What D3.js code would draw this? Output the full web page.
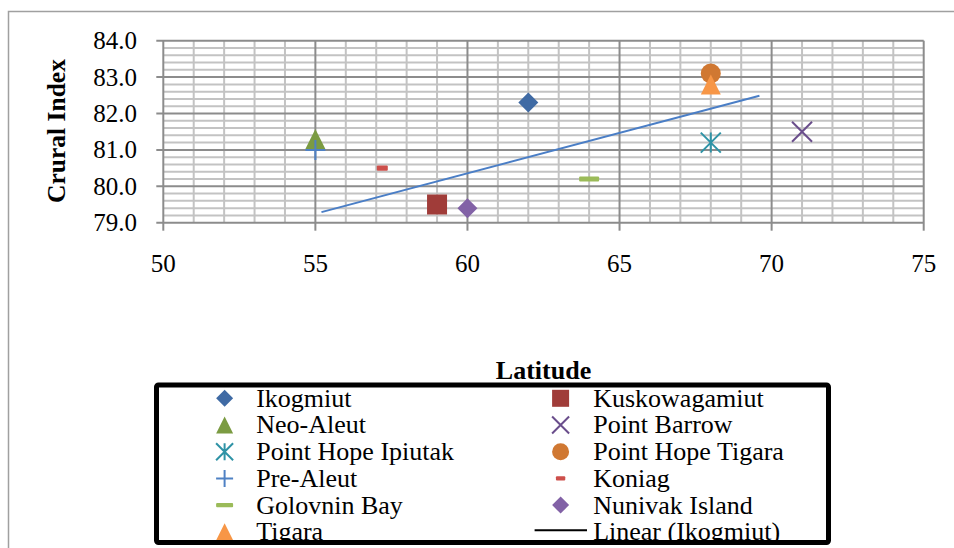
<!DOCTYPE html>
<html>
<head>
<meta charset="utf-8">
<script src="https://cdn.jsdelivr.net/npm/d3@7"></script>
<style>
  html, body { margin: 0; padding: 0; background: #fff; }
  svg { display: block; }
  text { font-family: "Liberation Serif", "Times New Roman", serif; fill: #000; }
</style>
</head>
<body>
<svg id="chart" width="954" height="548"></svg>
<script>
// ---- data ----
const seriesNames = ["Ikogmiut", "Kuskowagamiut", "Neo-Aleut", "Point Barrow", "Point Hope Ipiutak",
  "Point Hope Tigara", "Pre-Aleut", "Koniag", "Golovnin Bay", "Nunivak Island", "Tigara"];
const latitudes = [62, 59, 55, 71, 68, 68, 55, 57.2, 64, 60, 68];
const cruralIndex = [82.3, 79.5, 81.3, 81.5, 81.2, 83.1, 81.0, 80.5, 80.2, 79.4, 82.8];
const markerShapes = ["diamond", "square", "triangle", "x", "asterisk", "circle", "plus", "dashSmall", "dash", "diamond", "triangle"];
const markerColors = ["#3F6AA4", "#A03C39", "#7B9B42", "#6A4E8C", "#2F93A6", "#D07832", "#4F81C4", "#CD4F4B", "#9BBB59", "#8262A6", "#F79646"];
const trendX = [55.2, 69.6];
const trendY = [79.29, 82.49];
const trendName = "Linear (Ikogmiut)";
const xTicks = [50, 55, 60, 65, 70, 75];
const yTicks = [79, 80, 81, 82, 83, 84];
const xTitle = "Latitude";
const yTitle = "Crural Index";

// ---- layout ----
const svg = d3.select("#chart");
const x = d3.scaleLinear().domain([50, 75]).range([163.3, 923.7]);
const y = d3.scaleLinear().domain([79, 84]).range([222.7, 40.7]);

// chart area border
svg.append("rect").attr("x", 8.5).attr("y", 11.5).attr("width", 960).attr("height", 560)
  .attr("fill", "none").attr("stroke", "#a0a0a0").attr("stroke-width", 1.5);

const grid = svg.append("g");
const minorY = d3.range(79, 84.001, 0.2).filter(v => Math.abs(v - Math.round(v)) > 1e-6);
const minorX = d3.range(50, 75.001, 1).filter(v => v % 5 !== 0);
const minorColor = "#c3c3c3", majorColor = "#8c8c8c";

grid.selectAll(".mh").data(minorY).join("line")
  .attr("x1", x(50)).attr("x2", x(75)).attr("y1", d => y(d)).attr("y2", d => y(d))
  .attr("stroke", minorColor).attr("stroke-width", 2);
grid.selectAll(".mv").data(minorX).join("line")
  .attr("x1", d => x(d)).attr("x2", d => x(d)).attr("y1", y(84)).attr("y2", y(79))
  .attr("stroke", minorColor).attr("stroke-width", 2);
grid.selectAll(".Mh").data(yTicks).join("line")
  .attr("x1", x(50) - 7).attr("x2", x(75)).attr("y1", d => y(d)).attr("y2", d => y(d))
  .attr("stroke", majorColor).attr("stroke-width", 2);
grid.selectAll(".Mv").data(xTicks).join("line")
  .attr("x1", d => x(d)).attr("x2", d => x(d)).attr("y1", y(84)).attr("y2", y(79) + 8)
  .attr("stroke", majorColor).attr("stroke-width", 2);

// tick labels
svg.append("g").selectAll("text").data(yTicks).join("text")
  .attr("x", 137).attr("y", d => y(d) + 8.5).attr("text-anchor", "end")
  .attr("font-size", 25).text(d => d3.format(".1f")(d));
svg.append("g").selectAll("text").data(xTicks).join("text")
  .attr("x", d => x(d)).attr("y", 271.5).attr("text-anchor", "middle")
  .attr("font-size", 25).text(d => d);

// axis titles
svg.append("text").attr("transform", "translate(65,131) rotate(-90)")
  .attr("text-anchor", "middle").attr("font-size", 25.5).attr("font-weight", "bold").text(yTitle);
svg.append("text").attr("transform", "translate(543.5,378.5)")
  .attr("text-anchor", "middle").attr("font-size", 26).attr("font-weight", "bold").text(xTitle);

// marker drawing
function drawMarker(g, shape, color, s) {
  const h = s / 2;
  switch (shape) {
    case "diamond":
      g.append("path").attr("d", `M0,${-h}L${h},0L0,${h}L${-h},0Z`).attr("fill", color); break;
    case "square":
      g.append("rect").attr("x", -h).attr("y", -h).attr("width", s).attr("height", s).attr("fill", color); break;
    case "triangle":
      g.append("path").attr("d", `M0,${-h}L${h},${h}L${-h},${h}Z`).attr("fill", color); break;
    case "circle":
      g.append("circle").attr("r", h).attr("fill", color); break;
    case "x":
      g.append("path").attr("d", `M${-h},${-h}L${h},${h}M${-h},${h}L${h},${-h}`)
        .attr("stroke", color).attr("stroke-width", 2).attr("fill", "none"); break;
    case "asterisk":
      g.append("path").attr("d", `M${-h},${-h}L${h},${h}M${-h},${h}L${h},${-h}M0,${-h}L0,${h}`)
        .attr("stroke", color).attr("stroke-width", 2).attr("fill", "none"); break;
    case "plus":
      g.append("path").attr("d", `M${-h},0L${h},0M0,${-h}L0,${h}`)
        .attr("stroke", color).attr("stroke-width", 2).attr("fill", "none"); break;
    case "dash":
      g.append("rect").attr("x", -h).attr("y", -s * 0.13).attr("width", s).attr("height", s * 0.26)
        .attr("rx", 1).attr("fill", color); break;
    case "dashSmall":
      g.append("rect").attr("x", -h * 0.55).attr("y", -s * 0.13).attr("width", s * 0.55).attr("height", s * 0.26)
        .attr("rx", 1).attr("fill", color); break;
  }
}

const pts = seriesNames.map((n, i) => ({ n, x: latitudes[i], y: cruralIndex[i], shape: markerShapes[i], color: markerColors[i] }));
const mg = svg.append("g");
pts.forEach(p => {
  const g = mg.append("g").attr("transform", `translate(${x(p.x)},${y(p.y)})`);
  drawMarker(g, p.shape, p.color, 20);
});
svg.append("path")
  .attr("d", d3.line().x(d => x(d[0])).y(d => y(d[1]))(trendX.map((v, i) => [v, trendY[i]])))
  .attr("stroke", "#4A7EC6").attr("stroke-width", 2).attr("fill", "none");

// legend
const legend = svg.append("g");
svg.append("clipPath").attr("id", "lgclip")
  .append("rect").attr("x", 156.5).attr("y", 385).attr("width", 672).attr("height", 157.5);
const lgInner = legend.append("g").attr("clip-path", "url(#lgclip)");
const legendItems = pts.map(p => ({ name: p.n, shape: p.shape, color: p.color }));
legendItems.push({ name: trendName, shape: "line", color: "#000" });
const colMarkerX = [224.6, 560.6], colTextX = [256.2, 593.2];
legendItems.forEach((it, i) => {
  const col = i % 2, row = Math.floor(i / 2);
  const base = 406.7 + row * 26.7;
  const cy = base - 8.4;
  if (it.shape === "line") {
    lgInner.append("line").attr("x1", 534.6).attr("x2", 587).attr("y1", base - 10).attr("y2", base - 10)
      .attr("stroke", "#000").attr("stroke-width", 2);
  } else {
    const g = lgInner.append("g").attr("transform", `translate(${colMarkerX[col]},${cy})`);
    drawMarker(g, it.shape, it.color, 17);
  }
  lgInner.append("text").attr("x", colTextX[col]).attr("y", base)
    .attr("font-size", 26).text(it.name);
});
legend.append("rect").attr("x", 156.5).attr("y", 385).attr("width", 672).attr("height", 157.5)
  .attr("rx", 2).attr("fill", "none").attr("stroke", "#000").attr("stroke-width", 5);
</script>
</body>
</html>
